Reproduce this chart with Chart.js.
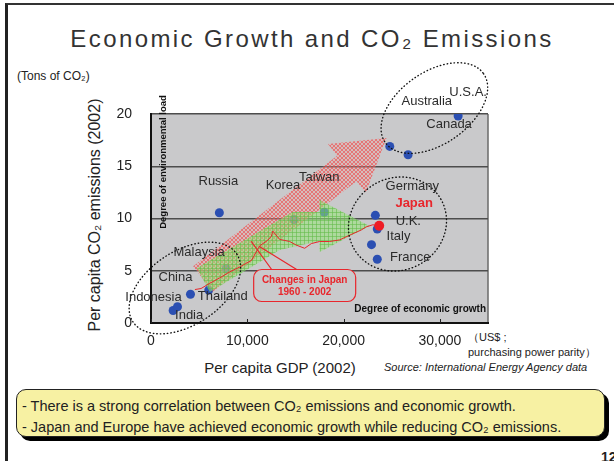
<!DOCTYPE html>
<html>
<head>
<meta charset="utf-8">
<script src="https://cdn.jsdelivr.net/npm/chart.js@4.4.1/dist/chart.umd.min.js"></script>
<style>
html, body { margin: 0; padding: 0; background: #fff; }
body { width: 614px; height: 461px; overflow: hidden; position: relative; font-family: "Liberation Sans", Arial, sans-serif; color: #222; }
#frame { position: absolute; left: 5px; top: 3px; width: 640px; height: 480px; border-left: 3px solid #222; border-top: 2px solid #333; }
#title { position: absolute; left: 0; top: 25px; width: 624px; text-align: center; font-size: 24px; line-height: 28px; letter-spacing: 2.4px; color: #333; }
.t { position: absolute; white-space: nowrap; }
#tons { left: 17px; top: 69px; font-size: 12px; }
#ytitle { left: 95px; top: 215px; font-size: 16px; transform: translate(-50%, -50%) rotate(-90deg); }
#xtitle { left: 280px; top: 367px; font-size: 15px; transform: translate(-50%, -50%); }
#unit1 { left: 468px; top: 330px; font-size: 11px; }
#unit2 { left: 468px; top: 345px; font-size: 11px; }
#source { left: 384px; top: 361px; font-size: 11px; font-style: italic; }
#note { position: absolute; left: 16px; top: 389px; width: 589px; height: 48px; background: #f7f1a3; border: 1.5px solid #222; border-radius: 10px; box-shadow: 4px 4px 0 #000; font-size: 14.5px; line-height: 21px; padding: 6px 0 0 5px; box-sizing: border-box; }
#page { left: 601px; top: 449px; font-size: 14px; font-weight: bold; }
canvas { position: absolute; left: 0; top: 0; }
</style>
</head>
<body>
<div id="frame"></div>
<div id="title">Economic Growth and CO₂ Emissions</div>
<div class="t" id="tons">(Tons of CO₂)</div>
<div class="t" id="ytitle">Per capita CO₂ emissions (2002)</div>
<div class="t" id="xtitle">Per capita GDP (2002)</div>
<div class="t" id="unit1">（US$ ;</div>
<div class="t" id="unit2">purchasing power parity）</div>
<div class="t" id="source">Source: International Energy Agency data</div>
<div id="note">- There is a strong correlation between CO₂ emissions and economic growth.<br>- Japan and Europe have achieved economic growth while reducing CO₂ emissions.</div>
<div class="t" id="page">12</div>
<canvas id="chart" width="614" height="461"></canvas>
<script>
// 2002 figures
var countries = ['India', 'Indonesia', 'China', 'Thailand', 'Malaysia', 'Russia', 'Korea', 'Taiwan', 'France', 'Italy', 'U.K.', 'Germany', 'Australia', 'Canada', 'U.S.A.', 'Japan'];
var gdp = [2300, 2750, 4100, 6000, 7800, 7100, 14850, 18000, 23500, 22900, 23500, 23300, 24800, 26700, 31900, 23700];
var co2 = [1.2, 1.55, 2.75, 3.15, 5.2, 10.55, 9.9, 10.6, 6.1, 7.5, 9.0, 10.3, 16.9, 16.1, 19.8, 9.3];

// Japan 1960 - 2002 path
var japanGdp = [4560, 5200, 6110, 7100, 8200, 9300, 10440, 11300, 12100, 12500, 12650, 13370, 14400, 15100, 15960, 16650, 17510, 18550, 19590, 20620, 21830, 22350, 23040, 23700];
var japanCo2 = [3.2, 3.3, 3.8, 4.3, 4.9, 5.4, 6.0, 7.4, 7.9, 8.3, 8.8, 8.0, 7.8, 7.45, 7.15, 7.6, 7.8, 7.8, 7.95, 8.4, 8.9, 9.2, 9.4, 9.3];

var xTicks = [0, 10000, 20000, 30000];
var yTicks = [0, 5, 10, 15, 20];

// label placement around each dot (px)
var labelOffset = {
  'India': [16, 5], 'Indonesia': [-24, -9], 'China': [-15, -17], 'Thailand': [14, 6],
  'Malaysia': [-27, -16], 'Russia': [-1, -31], 'Korea': [-11, -34], 'Taiwan': [-5, -35],
  'France': [33, -2], 'Italy': [27, -8], 'U.K.': [31, -8], 'Germany': [37, -29],
  'Australia': [37, -45], 'Canada': [41, -30], 'U.S.A.': [10, -24], 'Japan': [35, -22]
};

// annotation shapes, in data units
var redArrow = { from: [5390, 4.21], to: [24460, 17.7] };
var greenArrowX = [4770, 14710, 17510, 17510, 22690, 17510, 17510, 13370, 6110];
var greenArrowY = [5.26, 10.62, 10.62, 11.77, 9.28, 6.79, 7.85, 6.99, 2.97];
var circles = [
  { x: 29430, y: 20.57, rx: 60, ry: 36, rot: -35 },
  { x: 25600, y: 9.47, rx: 50, ry: 46, rot: -30 },
  { x: 3520, y: 3.35, rx: 62, ry: 37, rot: -33 }
];
var callout = { x: 15960, y: 3.59, tx1: 10430, ty1: 7.78, tx2: 11300, ty2: 7.3 };

var FONT = '"Liberation Sans", Arial, sans-serif';
var ctx = document.getElementById('chart').getContext('2d');

function hatch(bg, line, diag) {
  var p = document.createElement('canvas');
  p.width = p.height = 4;
  var g = p.getContext('2d');
  g.fillStyle = bg;
  g.fillRect(0, 0, 4, 4);
  g.strokeStyle = line;
  g.lineWidth = 1;
  g.beginPath();
  if (diag) {
    g.moveTo(0, 0); g.lineTo(4, 4); g.moveTo(4, 0); g.lineTo(0, 4);
  } else {
    g.moveTo(0, 0.5); g.lineTo(4, 0.5); g.moveTo(0.5, 0); g.lineTo(0.5, 4);
  }
  g.stroke();
  return ctx.createPattern(p, 'repeat');
}

var others = [];
var japan = [];
for (var i = 0; i < countries.length; i++) {
  if (countries[i] == 'Japan') japan.push({ x: gdp[i], y: co2[i] });
  else others.push({ x: gdp[i], y: co2[i] });
}
var path = [];
for (var i = 0; i < japanGdp.length; i++) path.push({ x: japanGdp[i], y: japanCo2[i] });

var overlay = {
  id: 'overlay',
  beforeDraw: function (chart) {
    var a = chart.chartArea, c = chart.ctx;
    c.save();
    c.fillStyle = '#c9c9cb';
    c.fillRect(a.left, a.top, a.right - a.left, a.bottom - a.top);
    c.strokeStyle = '#6a6a6a';
    c.lineWidth = 1.5;
    c.beginPath();
    c.moveTo(a.right, a.top); c.lineTo(a.right, a.bottom);
    c.stroke();
    c.restore();
  },
  afterDatasetDraw: function (chart, args) {
    if (args.index !== 0) return;
    var xs = chart.scales.x, ys = chart.scales.y, c = chart.ctx;
    c.save();
    // red arrow
    var tx = xs.getPixelForValue(redArrow.from[0]), ty = ys.getPixelForValue(redArrow.from[1]);
    var px = xs.getPixelForValue(redArrow.to[0]), py = ys.getPixelForValue(redArrow.to[1]);
    var len = Math.hypot(px - tx, py - ty);
    var ux = (px - tx) / len, uy = (py - ty) / len;
    var nx = -uy, ny = ux;
    var bx = px - 50 * ux, by = py - 50 * uy;
    c.beginPath();
    c.moveTo(tx - 16 * nx, ty - 16 * ny);
    c.lineTo(bx - 16 * nx, by - 16 * ny);
    c.lineTo(bx - 31 * nx, by - 31 * ny);
    c.lineTo(px, py);
    c.lineTo(bx + 31 * nx, by + 31 * ny);
    c.lineTo(bx + 16 * nx, by + 16 * ny);
    c.lineTo(tx + 16 * nx, ty + 16 * ny);
    c.closePath();
    c.fillStyle = hatch('rgba(245,160,160,0.3)', 'rgba(236,70,70,0.6)', true);
    c.fill();
    // green arrow
    c.beginPath();
    for (var i = 0; i < greenArrowX.length; i++) {
      var gx = xs.getPixelForValue(greenArrowX[i]), gy = ys.getPixelForValue(greenArrowY[i]);
      if (i == 0) c.moveTo(gx, gy); else c.lineTo(gx, gy);
    }
    c.closePath();
    c.fillStyle = hatch('rgba(150,230,120,0.55)', 'rgba(95,185,70,0.55)', false);
    c.fill();
    c.restore();
  },
  afterDraw: function (chart) {
    var a = chart.chartArea, xs = chart.scales.x, ys = chart.scales.y, c = chart.ctx;
    c.save();
    // small inward ticks on the x axis
    c.strokeStyle = '#222';
    c.lineWidth = 1;
    xTicks.forEach(function (v) {
      var x = Math.round(xs.getPixelForValue(v)) + 0.5;
      c.beginPath(); c.moveTo(x, a.bottom); c.lineTo(x, a.bottom - 4); c.stroke();
    });
    // dotted groupings
    c.strokeStyle = '#111';
    c.lineWidth = 1.4;
    c.lineCap = 'round';
    c.setLineDash([0.5, 3]);
    circles.forEach(function (e) {
      c.beginPath();
      c.ellipse(xs.getPixelForValue(e.x), ys.getPixelForValue(e.y), e.rx, e.ry, e.rot * Math.PI / 180, 0, 2 * Math.PI);
      c.stroke();
    });
    c.setLineDash([]);
    // callout
    var cx = xs.getPixelForValue(callout.x), cy = ys.getPixelForValue(callout.y);
    c.strokeStyle = '#e8262c';
    c.lineWidth = 1.2;
    c.beginPath();
    c.moveTo(cx - 33, cy - 16); c.lineTo(xs.getPixelForValue(callout.tx1), ys.getPixelForValue(callout.ty1));
    c.moveTo(cx - 8, cy - 16); c.lineTo(xs.getPixelForValue(callout.tx2), ys.getPixelForValue(callout.ty2));
    c.stroke();
    c.beginPath();
    c.roundRect(cx - 51, cy - 16, 102, 32, 8);
    c.fillStyle = '#c9c9cb';
    c.fill();
    c.stroke();
    c.fillStyle = '#e8262c';
    c.font = 'bold 10px ' + FONT;
    c.textAlign = 'center';
    c.textBaseline = 'middle';
    c.fillText('Changes in Japan', cx, cy - 5);
    c.fillText('1960 - 2002', cx, cy + 7);
    // country names
    for (var i = 0; i < countries.length; i++) {
      var o = labelOffset[countries[i]];
      var lx = xs.getPixelForValue(gdp[i]) + o[0], ly = ys.getPixelForValue(co2[i]) + o[1];
      if (countries[i] == 'Japan') {
        c.font = 'bold 13px ' + FONT;
        c.fillStyle = '#e8262c';
      } else {
        c.font = '13px ' + FONT;
        c.fillStyle = '#2b2b2b';
      }
      c.fillText(countries[i], lx, ly);
    }
    // axis captions inside the plot
    c.fillStyle = '#111';
    c.font = 'bold 10px ' + FONT;
    c.textAlign = 'right';
    c.fillText('Degree of economic growth', a.right - 2, a.bottom - 14);
    c.font = 'bold 9.5px ' + FONT;
    c.translate(a.left + 12, a.top + 48);
    c.rotate(-Math.PI / 2);
    c.textAlign = 'center';
    c.fillText('Degree of environmental load', 0, 0);
    c.restore();
  }
};

var chart = new Chart(ctx, {
  type: 'scatter',
  data: {
    datasets: [
      { data: others, order: 2, pointRadius: 4.5, pointBackgroundColor: '#2b4fb2', pointBorderWidth: 0 },
      { type: 'line', data: path, order: 1, borderColor: '#e8262c', borderWidth: 1, pointRadius: 0, tension: 0, fill: false },
      { data: japan, order: 0, pointRadius: 5, pointBackgroundColor: '#ee1c24', pointBorderWidth: 0 }
    ]
  },
  options: {
    responsive: false,
    animation: false,
    events: [],
    layout: { padding: { left: 100, top: 114, right: 126, bottom: 0 } },
    plugins: { legend: { display: false }, tooltip: { enabled: false } },
    scales: {
      x: {
        type: 'linear', min: 0, max: 35000,
        grid: { display: false, drawTicks: false },
        border: { color: '#111', width: 2 },
        ticks: {
          padding: 10, color: '#222', font: { size: 14, family: FONT },
          callback: function (v) { return v.toLocaleString('en-US'); }
        },
        afterBuildTicks: function (s) { s.ticks = xTicks.map(function (v) { return { value: v }; }); },
        afterFit: function (s) { s.height = 138; }
      },
      y: {
        min: 0, max: 20,
        grid: { color: '#4d4d4d', lineWidth: 1.5, drawTicks: false },
        border: { color: '#111', width: 2 },
        ticks: { padding: 19, color: '#222', font: { size: 14, family: FONT } },
        afterBuildTicks: function (s) { s.ticks = yTicks.map(function (v) { return { value: v }; }); },
        afterFit: function (s) { s.width = 51; }
      }
    }
  },
  plugins: [overlay]
});
</script>
</body>
</html>
